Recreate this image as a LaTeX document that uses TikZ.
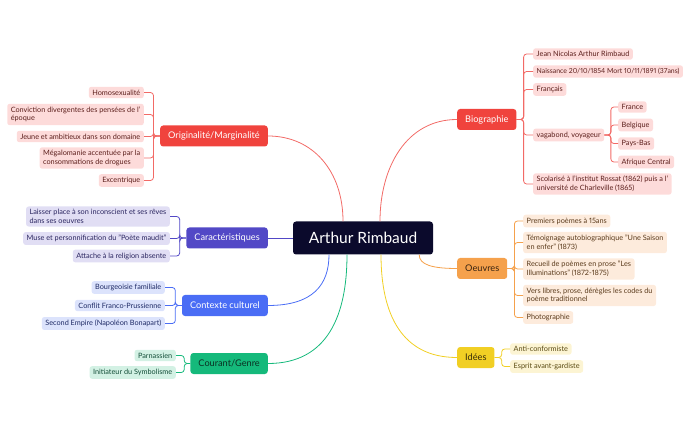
\documentclass[tikz,border=0pt]{standalone}
\usepackage{fontspec}
\setmainfont{Lato}[Numbers=Proportional]
\definecolor{rootc}{HTML}{0B0A2C}
\definecolor{redM}{HTML}{F0433D}
\definecolor{redL}{HTML}{FDDBDA}
\definecolor{redT}{HTML}{5C1F1C}
\definecolor{redW}{HTML}{F26A66}
\definecolor{purM}{HTML}{5248C6}
\definecolor{purL}{HTML}{E1DEF4}
\definecolor{purT}{HTML}{2B2660}
\definecolor{bluM}{HTML}{4A6DF5}
\definecolor{bluL}{HTML}{DCE3FC}
\definecolor{bluT}{HTML}{1F2B66}
\definecolor{greM}{HTML}{15B97B}
\definecolor{greL}{HTML}{D3F1E4}
\definecolor{greT}{HTML}{134E38}
\definecolor{oraM}{HTML}{F5A14C}
\definecolor{oraL}{HTML}{FDEBDC}
\definecolor{oraT}{HTML}{5B3B1C}
\definecolor{yelM}{HTML}{F1CF24}
\definecolor{yelL}{HTML}{FCF4D3}
\definecolor{yelT}{HTML}{5A4A12}
\begin{document}
\begin{tikzpicture}[x=1pt, y=-1pt,
  leaf/.style={rounded corners=2.5pt, inner xsep=3.5pt, inner ysep=3pt,
    font=\fontsize{7.3}{8.6}\selectfont, align=left},
  topic/.style={rounded corners=3pt, minimum height=21pt, inner xsep=8pt,
    font=\fontsize{9.2}{10}\selectfont},
  link/.style={line width=0.8pt, rounded corners=3pt}]
\useasboundingbox (0,0) rectangle (690,427);

% 中心
\node[fill=rootc, text=white, rounded corners=3pt, minimum width=140pt,
  minimum height=33pt, font=\fontsize{15.5}{17}\selectfont] (root) at (363,238) {Arthur Rimbaud};

% 左边的主题
\node[topic, fill=redM, text=white, anchor=east] (orig) at (268,136) {Originalité/Marginalité};
\node[topic, fill=purM, text=white, anchor=east] (carac) at (268,238) {Caractéristiques};
\node[topic, fill=bluM, text=white, anchor=east] (ctx) at (268,305.5) {Contexte culturel};
\node[topic, fill=greM, text=greT!60!black, anchor=east] (cour) at (268,363.5) {Courant/Genre};

% 右边的主题
\node[topic, fill=redM, text=white, anchor=west] (bio) at (457,119.5) {Biographie};
\node[topic, fill=oraM, text=oraT!60!black, anchor=west] (oeuv) at (457,268.5) {Oeuvres};
\node[topic, fill=yelM, text=yelT!60!black, anchor=west] (idee) at (457,357.5) {Idées};

% 中心到主题的线
\draw[link, redW] (orig.east) .. controls +(45,0) and +(0,-50) .. ([xshift=-20pt]root.north);
\draw[link, redW] (bio.west) .. controls +(-50,0) and +(0,-55) .. ([xshift=17pt]root.north);
\draw[link, purM] (carac.east) -- (root.west);
\draw[link, bluM] (ctx.east) .. controls +(45,0) and +(0,30) .. ([xshift=-34pt]root.south);
\draw[link, greM] (cour.east) .. controls +(60,0) and +(0,60) .. ([xshift=-16pt]root.south);
\draw[link, yelM] (idee.west) .. controls +(-55,0) and +(0,60) .. ([xshift=18pt]root.south);
\draw[link, oraM] (oeuv.west) .. controls +(-25,0) and +(0,10) .. ([xshift=-14pt]root.south east);

% Originalité/Marginalité
\node[leaf, fill=redL, text=redT, anchor=east] (o1) at (144,92.5) {Homosexualité};
\node[leaf, fill=redL, text=redT, anchor=east] (o2) at (144,114.5) {Conviction divergentes des pensées de l’\\époque};
\node[leaf, fill=redL, text=redT, anchor=east] (o3) at (144,136.5) {Jeune et ambitieux dans son domaine};
\node[leaf, fill=redL, text=redT, anchor=east] (o4) at (144,158) {Mégalomanie accentuée par la\\consommations de drogues};
\node[leaf, fill=redL, text=redT, anchor=east] (o5) at (144,180.5) {Excentrique};
\foreach \n in {o1,o2,o3,o4,o5}
  \draw[link, redW] (orig.west) -- ++(-6.5,0) |- (\n.east);

% Caractéristiques
\node[leaf, fill=purL, text=purT, anchor=east] (c1) at (170,216.5) {Laisser place à son inconscient et ses rêves\\dans ses oeuvres};
\node[leaf, fill=purL, text=purT, anchor=east] (c2) at (170,238.5) {Muse et personnification du "Poète maudit"};
\node[leaf, fill=purL, text=purT, anchor=east] (c3) at (170,256) {Attache à la religion absente};
\foreach \n in {c1,c2,c3}
  \draw[link, purM] (carac.west) -- ++(-6.5,0) |- (\n.east);

% Contexte culturel
\node[leaf, fill=bluL, text=bluT, anchor=east] (x1) at (165,287.5) {Bourgeoisie familiale};
\node[leaf, fill=bluL, text=bluT, anchor=east] (x2) at (165,305.5) {Conflit Franco-Prussienne};
\node[leaf, fill=bluL, text=bluT, anchor=east] (x3) at (165,323.5) {Second Empire (Napoléon Bonapart)};
\foreach \n in {x1,x2,x3}
  \draw[link, bluM] (ctx.west) -- ++(-6.5,0) |- (\n.east);

% Courant/Genre
\node[leaf, fill=greL, text=greT, anchor=east] (g1) at (176,355.5) {Parnassien};
\node[leaf, fill=greL, text=greT, anchor=east] (g2) at (176,372.5) {Initiateur du Symbolisme};
\foreach \n in {g1,g2}
  \draw[link, greM] (cour.west) -- ++(-6,0) |- (\n.east);

% Biographie
\node[leaf, fill=redL, text=redT, anchor=west] (b1) at (533,54) {Jean Nicolas Arthur Rimbaud};
\node[leaf, fill=redL, text=redT, anchor=west, font=\fontsize{6.9}{8.6}\selectfont] (b2) at (533,71.5) {Naissance 20/10/1854 Mort 10/11/1891 (37ans)};
\node[leaf, fill=redL, text=redT, anchor=west] (b3) at (533,89.5) {Français};
\node[leaf, fill=redL, text=redT, anchor=west] (b4) at (533,135) {vagabond, voyageur};
\node[leaf, fill=redL, text=redT, anchor=west] (b5) at (533,184) {Scolarisé à l’institut Rossat (1862) puis a l’\\université de Charleville (1865)};
\foreach \n in {b1,b2,b3,b4,b5}
  \draw[link, redW] (bio.east) -- ++(7,0) |- (\n.west);

% vagabond, voyageur
\node[leaf, fill=redL, text=redT, anchor=west] (v1) at (618,107) {France};
\node[leaf, fill=redL, text=redT, anchor=west] (v2) at (618,125) {Belgique};
\node[leaf, fill=redL, text=redT, anchor=west] (v3) at (618,143.5) {Pays-Bas};
\node[leaf, fill=redL, text=redT, anchor=west] (v4) at (618,162) {Afrique Central};
\foreach \n in {v1,v2,v3,v4}
  \draw[link, redW] (b4.east) -- ++(6.5,0) |- (\n.west);

% Oeuvres
\node[leaf, fill=oraL, text=oraT, anchor=west] (w1) at (523,221) {Premiers poèmes à 15ans};
\node[leaf, fill=oraL, text=oraT, anchor=west] (w2) at (523,242.5) {Témoignage autobiographique "Une Saison\\en enfer" (1873)};
\node[leaf, fill=oraL, text=oraT, anchor=west] (w3) at (523,269) {Recueil de poèmes en prose "Les\\Illuminations" (1872-1875)};
\node[leaf, fill=oraL, text=oraT, anchor=west] (w4) at (523,295.5) {Vers libres, prose, dérègles les codes du\\poème traditionnel};
\node[leaf, fill=oraL, text=oraT, anchor=west] (w5) at (523,317.5) {Photographie};
\foreach \n in {w1,w2,w3,w4,w5}
  \draw[link, oraM] (oeuv.east) -- ++(7,0) |- (\n.west);

% Idées
\node[leaf, fill=yelL, text=yelT, anchor=west] (i1) at (510,349) {Anti-conformiste};
\node[leaf, fill=yelL, text=yelT, anchor=west] (i2) at (510,366.5) {Esprit avant-gardiste};
\foreach \n in {i1,i2}
  \draw[link, yelM] (idee.east) -- ++(7,0) |- (\n.west);
\end{tikzpicture}
\end{document}
